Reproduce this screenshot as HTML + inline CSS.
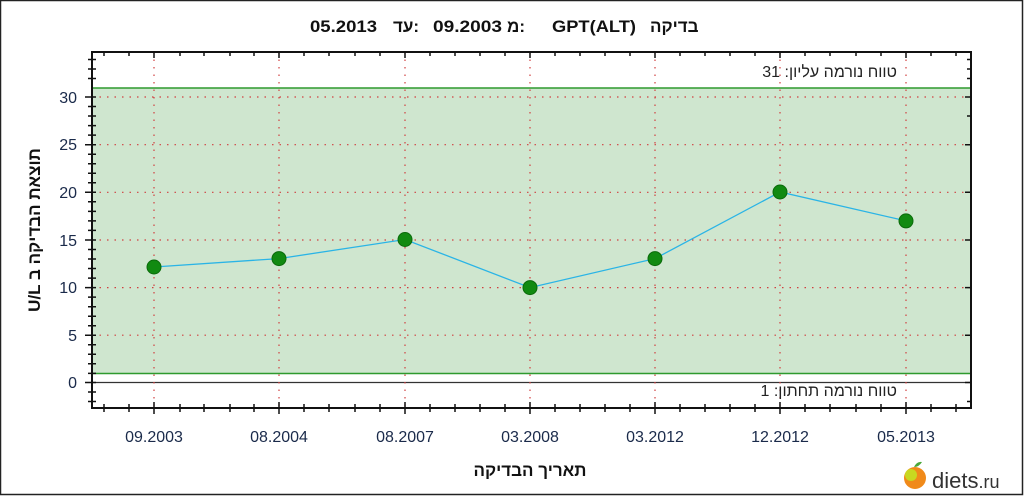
<!DOCTYPE html>
<html><head><meta charset="utf-8"><style>
html,body{margin:0;padding:0;background:#fff}
svg{display:block}
text{font-family:"Liberation Sans",Arial,sans-serif}
</style></head><body>
<svg width="1025" height="499" viewBox="0 0 1025 499">
<rect x="0.5" y="0.5" width="1022" height="494" fill="#fff" stroke="#222" stroke-width="1.5"/>
<g font-size="17" font-weight="bold" fill="#111">
<text x="310" y="32" textLength="67" lengthAdjust="spacingAndGlyphs">05.2013</text>
<text x="393" y="32">עד:</text>
<text x="433" y="32" textLength="69" lengthAdjust="spacingAndGlyphs">09.2003</text>
<text x="507" y="32">מ:</text>
<text x="552" y="32" textLength="84" lengthAdjust="spacingAndGlyphs">GPT(ALT)</text>
<text x="650" y="32">בדיקה</text>
</g>
<rect x="92" y="88" width="879" height="285.5" fill="#cfe6cf"/>
<line x1="92" y1="88" x2="971" y2="88" stroke="#2e9a2e" stroke-width="1.5"/>
<line x1="92" y1="373.5" x2="971" y2="373.5" stroke="#2e9a2e" stroke-width="1.5"/>
<line x1="92" y1="382.5" x2="971" y2="382.5" stroke="#333" stroke-width="1.2"/>
<g stroke="#d04040" stroke-width="1.2" stroke-dasharray="1.5,6">
<line x1="92" y1="97" x2="971" y2="97"/><line x1="92" y1="144.7" x2="971" y2="144.7"/><line x1="92" y1="192.3" x2="971" y2="192.3"/><line x1="92" y1="240" x2="971" y2="240"/><line x1="92" y1="287.6" x2="971" y2="287.6"/><line x1="92" y1="335.2" x2="971" y2="335.2"/>
<line x1="154" y1="52" x2="154" y2="408"/><line x1="279" y1="52" x2="279" y2="408"/><line x1="405" y1="52" x2="405" y2="408"/><line x1="530" y1="52" x2="530" y2="408"/><line x1="655" y1="52" x2="655" y2="408"/><line x1="780" y1="52" x2="780" y2="408"/><line x1="906" y1="52" x2="906" y2="408"/>
</g>
<rect x="92" y="52" width="879" height="356" fill="none" stroke="#111" stroke-width="2"/>
<g stroke="#111" stroke-width="1.5">
<path d="M88 59.5h8M88 69h8M88 78.5h8M85 97h11M88 106.5h8M88 116h8M88 125.6h8M88 135.1h8M85 144.7h11M88 154.2h8M88 163.7h8M88 173.2h8M88 182.8h8M85 192.3h11M88 201.8h8M88 211.4h8M88 220.9h8M88 230.4h8M85 240h11M88 249.5h8M88 259h8M88 268.5h8M88 278.1h8M85 287.6h11M88 297.1h8M88 306.7h8M88 316.2h8M88 325.7h8M85 335.2h11M88 344.8h8M88 354.3h8M88 363.8h8M88 373.4h8M85 382.5h11M88 392h8M88 401.5h8"/>
<path d="M967 59.5h4M967 69h4M967 78.5h4M965 97h6M967 116h4M965 144.7h6M965 192.3h6M965 240h6M965 287.6h6M965 335.2h6M965 382.5h6M967 401.5h4"/>
<path d="M104 404v8M129 404v8M154 402v12M180 404v8M204 404v8M230 404v8M254 404v8M279 402v12M304 404v8M329 404v8M355 404v8M380 404v8M405 402v12M430 404v8M455 404v8M480 404v8M505 404v8M530 402v12M555 404v8M580 404v8M605 404v8M630 404v8M655 402v12M680 404v8M705 404v8M730 404v8M755 404v8M780 402v12M805 404v8M830 404v8M856 404v8M881 404v8M906 402v12M931 404v8M956 404v8"/>
<path d="M104 52v4M129 52v4M154 52v6M180 52v4M204 52v4M230 52v4M254 52v4M279 52v6M304 52v4M329 52v4M355 52v4M380 52v4M405 52v6M430 52v4M455 52v4M480 52v4M505 52v4M530 52v6M555 52v4M580 52v4M605 52v4M630 52v4M655 52v6M680 52v4M705 52v4M730 52v4M755 52v4M780 52v6M805 52v4M830 52v4M856 52v4M881 52v4M906 52v6M931 52v4M956 52v4"/>
</g>
<g font-size="16" fill="#1a2a4a" text-anchor="end">
<text x="77" y="103">30</text><text x="77" y="150">25</text><text x="77" y="198">20</text><text x="77" y="246">15</text><text x="77" y="293">10</text><text x="77" y="341">5</text><text x="77" y="388">0</text>
</g>
<g font-size="16" fill="#1a2a4a" text-anchor="middle">
<text x="154" y="442">09.2003</text><text x="279" y="442">08.2004</text><text x="405" y="442">08.2007</text><text x="530" y="442">03.2008</text><text x="655" y="442">03.2012</text><text x="780" y="442">12.2012</text><text x="906" y="442">05.2013</text>
</g>
<text x="530" y="476" font-size="17" font-weight="bold" text-anchor="middle" fill="#111">תאריך הבדיקה</text>
<text transform="translate(40,230) rotate(-90)" font-size="17" font-weight="bold" text-anchor="middle" fill="#111">U/L תוצאת הבדיקה ב</text>
<text x="897" y="77" font-size="16" text-anchor="start" direction="rtl" fill="#222">טווח נורמה עליון: 31</text>
<text x="897" y="396" font-size="16" text-anchor="start" direction="rtl" fill="#222">טווח נורמה תחתון: 1</text>
<polyline points="154,267 279,258.6 405,239.5 530,287.6 655,258.6 780,192 906,220.9" fill="none" stroke="#2ab4e6" stroke-width="1.3"/>
<g fill="#118a11" stroke="#0a6a0a">
<circle cx="154" cy="267" r="7"/><circle cx="279" cy="258.6" r="7"/><circle cx="405" cy="239.5" r="7"/><circle cx="530" cy="287.6" r="7"/><circle cx="655" cy="258.6" r="7"/><circle cx="780" cy="192" r="7"/><circle cx="906" cy="220.9" r="7"/>
</g>
<circle cx="915" cy="478" r="11" fill="#f08a1a"/><circle cx="911" cy="475" r="6" fill="#c8d820"/><path d="M914 467q3-6 8-5q-3 5-8 5z" fill="#4aa83a"/>
<text x="932" y="488" font-size="22" fill="#333">diets<tspan font-size="18">.ru</tspan></text>
</svg>
</body></html>
